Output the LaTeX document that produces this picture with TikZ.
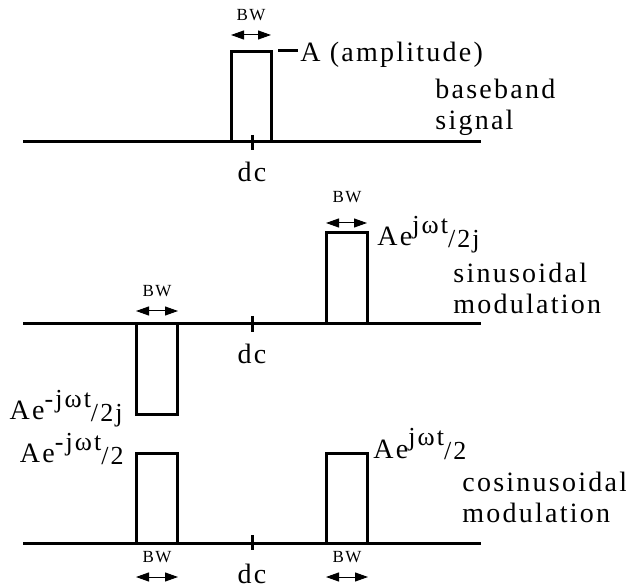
\documentclass[tikz,border=0pt]{standalone}
\usepackage{fontspec}
\setmainfont{Liberation Serif}[LetterSpace=8]
\usetikzlibrary{arrows.meta}
\newcommand{\fasor}[2]{Ae\raisebox{6pt}{\fontsize{13}{15}\selectfont #1}\raisebox{-1pt}{\fontsize{13}{15}\selectfont/#2}}
\begin{document}
\begin{tikzpicture}[x=0.5pt,y=-0.5pt,
  eje/.style={line width=1.5pt},
  marca/.style={line width=1.5pt},
  ancho/.style={{Triangle[length=6.5pt,width=4.5pt]}-{Triangle[length=6.5pt,width=4.5pt]},line width=0.5pt},
  bw/.style={font=\fontsize{8.5}{10}\selectfont,inner sep=0pt},
  etq/.style={font=\fontsize{14}{15.5}\selectfont,inner sep=0pt}]
\useasboundingbox (0,0) rectangle (626,587);
% Senal en banda base
\draw[eje] (23,142) -- (481,142);
\draw[marca] (231,142) |- (271,52) -- (271,142);
\draw[marca] (252,135) -- (252,150);
\node[etq,anchor=base] (dcA) at (252,182) {dc};
\node[bw,anchor=base] (bwA) at (251,21) {BW};
\draw[ancho] (231,35) -- (271,35);
\draw[marca] (278,51) -- (298,51);
\node[etq,anchor=base west] (amp) at (300,62) {A (amplitude)};
\node[etq,anchor=base west,align=left] (banda) at (435,130) {baseband\\signal};
% Modulacion senoidal
\draw[eje] (23,324) -- (481,324);
\draw[marca] (326,324) |- (367,233) -- (367,324);
\draw[marca] (136,324) |- (177,414) -- (177,324);
\draw[marca] (252,316) -- (252,332);
\node[etq,anchor=base] (dcB) at (252,364) {dc};
\node[bw,anchor=base] (bwBder) at (347,203) {BW};
\draw[ancho] (326,223) -- (367,223);
\node[bw,anchor=base] (bwBizq) at (157,297) {BW};
\draw[ancho] (136,311) -- (178,311);
\node[etq,anchor=base west] (senoSup) at (377,246) {\fasor{jωt}{2j}};
\node[etq,anchor=base east] (senoInf) at (123,420) {\fasor{-jωt}{2j}};
\node[etq,anchor=base west,align=left] (seno) at (453,314) {sinusoidal\\modulation};
% Modulacion cosenoidal
\draw[eje] (23,543) -- (481,543);
\draw[marca] (136,543) |- (177,453) -- (177,543);
\draw[marca] (326,543) |- (367,453) -- (367,543);
\draw[marca] (252,535) -- (252,550);
\node[etq,anchor=base] (dcC) at (252,583) {dc};
\foreach \x/\n in {157/izq,347/der} {
  \node[bw,anchor=base] (bwC\n) at (\x,562) {BW};
  \draw[ancho] (\x-21,577) -- (\x+21,577);
}
\node[etq,anchor=base east] (cosIzq) at (124,462) {\fasor{-jωt}{2}};
\node[etq,anchor=base west] (cosDer) at (373,458) {\fasor{jωt}{2}};
\node[etq,anchor=base west,align=left] (coseno) at (462,522) {cosinusoidal\\modulation};
\end{tikzpicture}
\end{document}
